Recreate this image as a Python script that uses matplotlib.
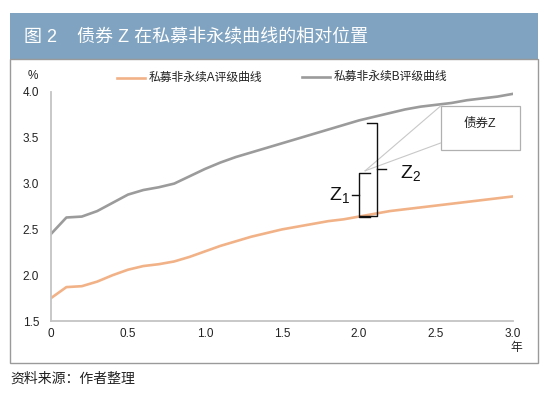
import matplotlib
matplotlib.use("Agg")
import matplotlib.pyplot as plt
from matplotlib.lines import Line2D
from matplotlib.patches import Rectangle
import numpy as np

plt.rcParams["font.family"] = ["Liberation Sans", "Noto Sans CJK SC", "DejaVu Sans"]

# 期限（年）
tenor = [0.0, 0.1, 0.2, 0.3, 0.4, 0.5, 0.6, 0.7, 0.8, 0.9, 1.0,
         1.1, 1.2, 1.3, 1.4, 1.5, 1.6, 1.7, 1.8, 1.9, 2.0,
         2.1, 2.2, 2.3, 2.4, 2.5, 2.6, 2.7, 2.8, 2.9, 3.0]
curve_a = [1.75, 1.87, 1.88, 1.93, 2.00, 2.06, 2.10, 2.12, 2.15, 2.20, 2.26,
           2.32, 2.37, 2.42, 2.46, 2.50, 2.53, 2.56, 2.59, 2.61, 2.64,
           2.67, 2.70, 2.72, 2.74, 2.76, 2.78, 2.80, 2.82, 2.84, 2.86]
curve_b = [2.45, 2.63, 2.64, 2.70, 2.79, 2.88, 2.93, 2.96, 3.00, 3.08, 3.16,
           3.23, 3.29, 3.34, 3.39, 3.44, 3.49, 3.54, 3.59, 3.64, 3.69,
           3.73, 3.77, 3.81, 3.84, 3.86, 3.88, 3.91, 3.93, 3.95, 3.98]
label_a = "私募非永续A评级曲线"
label_b = "私募非永续B评级曲线"
xticks = [0, 0.5, 1.0, 1.5, 2.0, 2.5, 3.0]
xticklabels = ["0", "0.5", "1.0", "1.5", "2.0", "2.5", "3.0"]
yticks = [1.5, 2.0, 2.5, 3.0, 3.5, 4.0]

# 债券Z 的位置与标注
bond_z = (2.04, 3.14)
z1_span = (2.635, 3.12)   # Z1: A曲线 -> 债券Z
z2_span = (2.641, 3.658)  # Z2: A曲线 -> B曲线

ORANGE = "#f2b288"
GRAY = "#9b9b9b"
W, H = 550, 396


def fx(px):
    return px / W


def fy(py):
    return 1 - py / H


fig = plt.figure(figsize=(5.5, 3.96), dpi=100)
fig.patch.set_facecolor("white")

# title bar and frame
fig.add_artist(Rectangle((fx(10), fy(59)), fx(528), 46 / H, transform=fig.transFigure,
                         facecolor="#7fa3c0", edgecolor="none"))
fig.add_artist(Rectangle((fx(10), fy(363)), fx(528), 304 / H, transform=fig.transFigure,
                         facecolor="none", edgecolor="#9a9a9a", linewidth=1.0))
fig.text(fx(24), fy(37), "图 2    债券 Z 在私募非永续曲线的相对位置", color="white",
         fontsize=13, va="center", ha="left")
fig.text(fx(10), fy(379), "资料来源：作者整理", fontsize=10, va="center", ha="left",
         color="#222222")

ax = fig.add_axes([fx(51), fy(321), (513 - 51) / W, (321 - 92) / H])
ax.plot(tenor, curve_a, color=ORANGE, linewidth=1.9, solid_joinstyle="round")
ax.plot(tenor, curve_b, color=GRAY, linewidth=1.9, solid_joinstyle="round")
ax.set_xlim(0, 3.0)
ax.set_ylim(1.5, 4.0)
ax.set_xticks(xticks)
ax.set_xticklabels(xticklabels)
ax.set_yticks(yticks)
ax.set_yticklabels([f"{v:.1f}" for v in yticks])
ax.tick_params(length=0, labelsize=8.5, colors="#222222")
ax.tick_params(axis="y", pad=8.5)
ax.tick_params(axis="x", pad=5)
for s in ["top", "right"]:
    ax.spines[s].set_visible(False)
for s in ["left", "bottom"]:
    ax.spines[s].set_color("#c4c4c4")
    ax.spines[s].set_linewidth(1.3)
ax.patch.set_alpha(0)

fig.text(fx(33), fy(76), "%", fontsize=8.5, ha="center", va="center", color="#222222")
fig.text(fx(516), fy(348), "年", fontsize=8.5, ha="center", va="center", color="#222222")

# legend
for (x0, y0, lab, col) in [(117, 78, label_a, ORANGE), (302, 77, label_b, GRAY)]:
    fig.add_artist(Line2D([fx(x0), fx(x0 + 28)], [fy(y0), fy(y0)], transform=fig.transFigure,
                          color=col, linewidth=1.9))
    fig.text(fx(x0 + 32), fy(y0), lab, fontsize=8.5, va="center", ha="left", color="#222222")

# callout lines and box
box_x0, box_x1 = 2.53, 3.045
box_y0, box_y1 = 3.367, 3.847
for yy in [box_y1, 3.443]:
    ax.plot([bond_z[0], box_x0], [bond_z[1], yy], color="#c8c8c8", linewidth=0.8,
            clip_on=False)
ax.add_patch(Rectangle((box_x0, box_y0), box_x1 - box_x0, box_y1 - box_y0,
                       facecolor="white", edgecolor="#b0b0b0", linewidth=0.9, clip_on=False))
ax.text((box_x0 + box_x1) / 2, (box_y0 + box_y1) / 2 + 0.04, "债券Z", fontsize=9,
        ha="center", va="center", color="#222222")

# Z1 bracket
bk = dict(color="#111111", linewidth=1.0, clip_on=False)
zx1 = 2.002
ax.plot([zx1 + 0.068, zx1, zx1, zx1 + 0.068], [z1_span[1], z1_span[1], z1_span[0], z1_span[0]], **bk)
z1_mid = (z1_span[0] + z1_span[1]) / 2
ax.plot([zx1 - 0.05, zx1], [z1_mid, z1_mid], **bk)
ax.text(zx1 - 0.062, z1_mid, r"$\mathregular{Z_1}$", fontsize=14, ha="right", va="center",
        color="#111111")

# Z2 bracket
zx2 = 2.119
ax.plot([zx2 - 0.065, zx2, zx2, zx2 - 0.113], [z2_span[1], z2_span[1], z2_span[0], z2_span[0]], **bk)
z2_mid = 3.156
ax.plot([zx2, zx2 + 0.056], [z2_mid, z2_mid], **bk)
ax.text(zx2 + 0.15, z2_mid - 0.04, r"$\mathregular{Z_2}$", fontsize=14, ha="left", va="center",
        color="#111111")

fig.savefig("out.png", dpi=100)
